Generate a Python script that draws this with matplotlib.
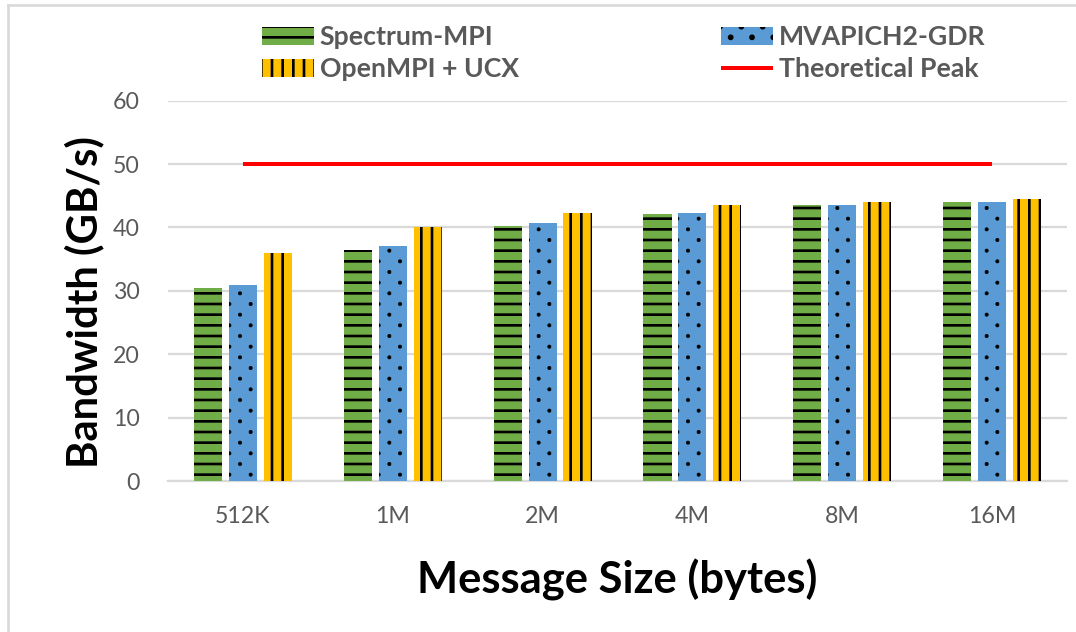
import matplotlib
matplotlib.use("Agg")
import matplotlib.pyplot as plt
import matplotlib.hatch as mhatch
from matplotlib.path import Path
from matplotlib.lines import Line2D
import numpy as np

categories = ["512K", "1M", "2M", "4M", "8M", "16M"]
spectrum_mpi = [30.5, 36.4, 40.2, 42.2, 43.5, 44.0]
mvapich2_gdr = [31.0, 37.0, 40.7, 42.3, 43.5, 44.0]
openmpi_ucx = [36.0, 40.1, 42.3, 43.5, 44.0, 44.5]
theoretical_peak = [50, 50, 50, 50, 50, 50]
yticks = [0, 10, 20, 30, 40, 50, 60]


# sparse dotted fill pattern (Excel-like "5%" dots) used for '.' hatches
class SparseDots(mhatch.HatchPatternBase):
    R = 0.024

    def __init__(self, hatch, density):
        circ = Path.unit_circle()
        self.cv = circ.vertices
        self.cc = circ.codes
        if hatch.count('.') > 0:
            rows = 6
            cols = 3
            self.centers = [((c + 0.25 + 0.5 * (r % 2)) / cols, (r + 0.5) / rows)
                            for r in range(rows) for c in range(cols)]
        else:
            self.centers = []
        self.num_vertices = len(self.centers) * len(self.cv)

    def set_vertices_and_codes(self, vertices, codes):
        n = len(self.cv)
        for i, (cx, cy) in enumerate(self.centers):
            vertices[i * n:(i + 1) * n] = self.cv * self.R + np.array([cx, cy])
            codes[i * n:(i + 1) * n] = self.cc


mhatch._hatch_types = [SparseDots if t is mhatch.SmallFilledCircles else t
                       for t in mhatch._hatch_types]

DPI = 64
W, H = 1076, 632
plt.rcParams['hatch.linewidth'] = 3.0
plt.rcParams['font.family'] = ['Lato', 'DejaVu Sans']

fig = plt.figure(figsize=(W / DPI, H / DPI), dpi=DPI)
ax = fig.add_axes([168 / W, 1 - 481 / H, (1067 - 168) / W, (481 - 100.7) / H])

GRAY = "#595959"
GRID = "#D9D9D9"

x = np.arange(len(categories))
bw = 0.187
off = 0.233
b1 = ax.bar(x - off, spectrum_mpi, bw, color="#70AD47", edgecolor="black",
            linewidth=0, hatch="-", label="Spectrum-MPI", zorder=3)
b2 = ax.bar(x, mvapich2_gdr, bw, color="#5B9BD5", edgecolor="black",
            linewidth=0, hatch=".", label="MVAPICH2-GDR", zorder=3)
b3 = ax.bar(x + off, openmpi_ucx, bw, color="#FFC000", edgecolor="black",
            linewidth=0, hatch="|", label="OpenMPI + UCX", zorder=3)
for p in b2.patches:
    if hasattr(p, "set_hatch_linewidth"):
        p.set_hatch_linewidth(1.0)
l1, = ax.plot(x, theoretical_peak, color="#FF0000", linewidth=4.5,
              solid_capstyle="butt", label="Theoretical Peak", zorder=4)

ax.set_xlim(-0.5, len(categories) - 0.5)
ax.set_ylim(0, 60)
ax.set_yticks(yticks)
ax.set_xticks(x)
ax.set_xticklabels(categories)
ax.yaxis.grid(True, color=GRID, linewidth=2.5, zorder=0)
ax.set_axisbelow(True)
for s in ["left", "right", "top"]:
    ax.spines[s].set_visible(False)
ax.spines["bottom"].set_color(GRID)
ax.spines["bottom"].set_linewidth(2.5)
ax.tick_params(axis="both", length=0, labelsize=26, labelcolor=GRAY)
ax.tick_params(axis="y", pad=32)
ax.tick_params(axis="x", pad=28)

ax.set_ylabel("Bandwidth (GB/s)", fontsize=47, fontweight="bold", color="black",
              labelpad=9, y=0.47)
ax.set_xlabel("Message Size (bytes)", fontsize=49, fontweight="bold", color="black", labelpad=36)

leg = fig.legend(handles=[b1, b3, b2, l1],
                 labels=["Spectrum-MPI", "OpenMPI + UCX", "MVAPICH2-GDR", "Theoretical Peak"],
                 ncol=2, loc="upper left", bbox_to_anchor=(249 / W, 1 - 12 / H),
                 frameon=False, prop={"size": 30, "weight": "bold"},
                 handlelength=1.95, handleheight=0.64, handletextpad=0.2,
                 columnspacing=7.6, labelspacing=0.3, borderpad=0)
for t in leg.get_texts():
    t.set_color(GRAY)

# chart area border (left and top edges visible)
fig.add_artist(Line2D([8 / W, 8 / W], [0, 1 - 5 / H], transform=fig.transFigure,
                      color=GRID, linewidth=3))
fig.add_artist(Line2D([8 / W, 1], [1 - 5 / H, 1 - 5 / H], transform=fig.transFigure,
                      color=GRID, linewidth=3))

fig.savefig("out.png", dpi=DPI)
